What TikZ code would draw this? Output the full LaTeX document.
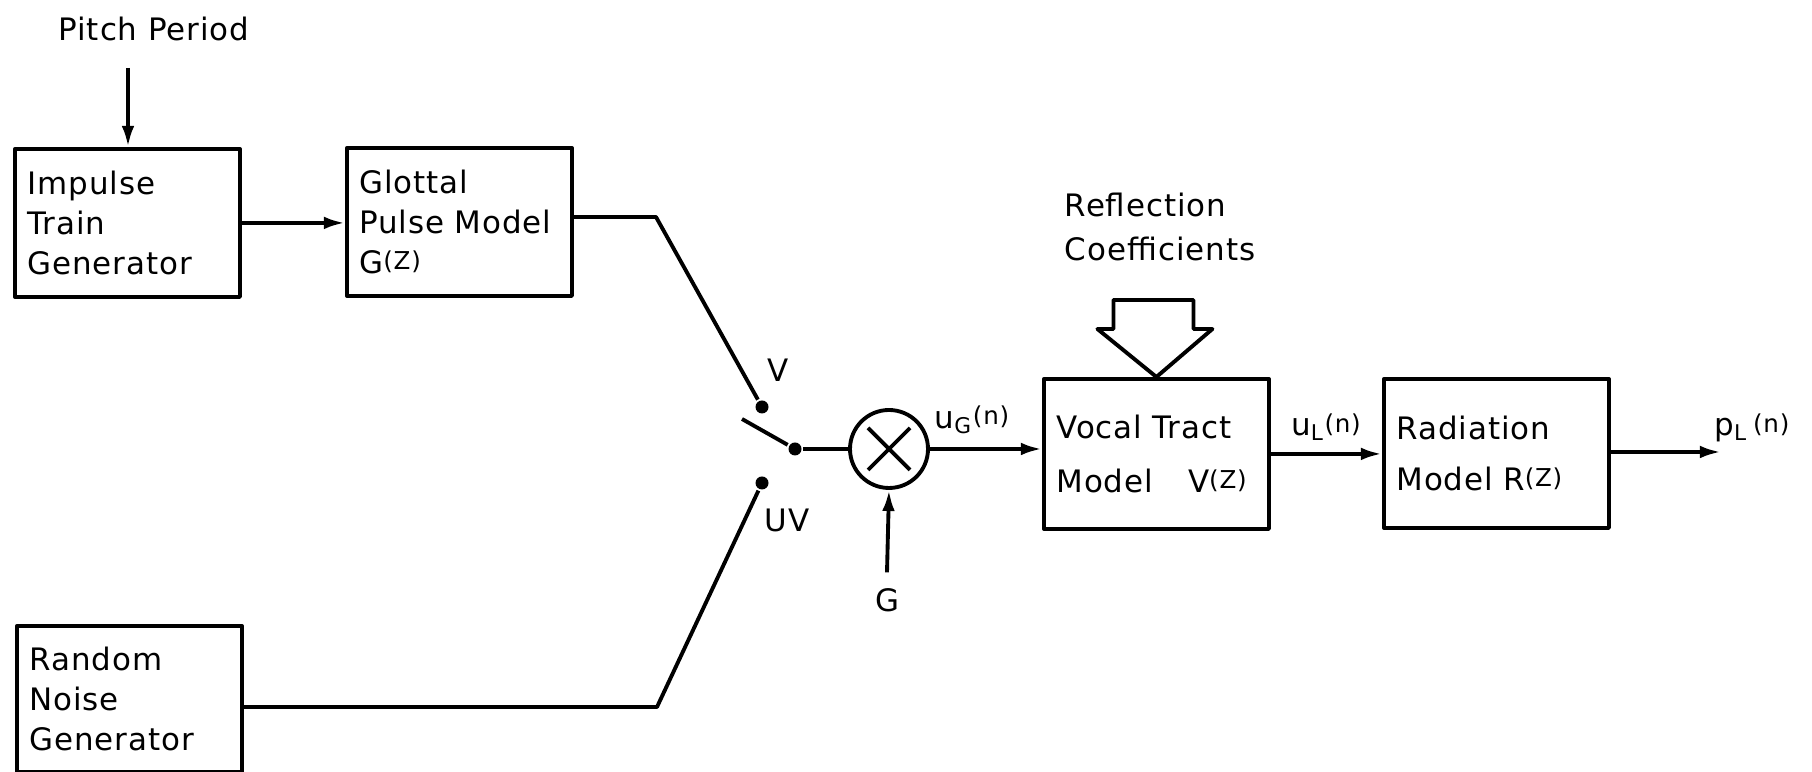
\documentclass[tikz,border=0pt]{standalone}
\usepackage{fontspec}
\setmainfont{DejaVu Sans}[LetterSpace=3]
\usetikzlibrary{arrows.meta}
\newcommand{\smallup}[1]{\raisebox{0.2ex}{\scriptsize #1}}
\begin{document}
\begin{tikzpicture}[font=\fontsize{8.8}{11.3}\selectfont, line width=1.1pt, line join=round,
        block/.style={draw, anchor=north west, align=left, text width=2cm, inner xsep=0.125cm, minimum height=1.48cm},
        sig/.style={-{Latex[length=6pt,width=3.6pt]}},
        contact/.style={circle, fill, inner sep=0pt, minimum size=0.13cm},
        lbl/.style={inner sep=0pt}]
        \useasboundingbox (0,0) rectangle (18.12,-7.72);
        % blocks
        \node[block] (impulse) at (0.13,-1.47) {Impulse\\Train\\Generator};
        \node[block] (glottal) at (3.45,-1.46) {Glottal\\Pulse Model\\G\smallup{(Z)}};
        \node[block, minimum height=1.46cm] (random) at (0.15,-6.24) {Random\\Noise\\Generator};
        \node[block, minimum height=1.50cm] (vocal) at (10.42,-3.77) {Vocal Tract\\[4pt]Model\hspace{0.8em} V\smallup{(Z)}};
        \node[block, minimum height=1.49cm] (radiation) at (13.82,-3.77) {Radiation\\[3pt]Model R\smallup{(Z)}};
        \node[draw, circle, minimum size=0.78cm, inner sep=0pt] (mult) at (8.89,-4.49) {};
        \draw (mult.center) +(-0.21,0.21) -- +(0.21,-0.21) +(-0.21,-0.21) -- +(0.21,0.21);
        % labels
        \node[lbl] (pitch) at (1.54,-0.29) {Pitch Period};
        \node[lbl, anchor=west, align=left] (refl) at (10.63,-2.27) {Reflection\\[1pt]Coefficients};
        \node[lbl] (vlbl) at (7.78,-3.70) {V};
        \node[lbl] (uvlbl) at (7.87,-5.20) {UV};
        \node[lbl] (gain) at (8.87,-6.00) {G};
        \node[lbl] (ug) at (9.72,-4.20) {u\textsubscript{G}\smallup{(n)}};
        \node[lbl] (ul) at (13.26,-4.27) {u\textsubscript{L}\smallup{(n)}};
        \node[lbl] (pl) at (17.52,-4.28) {p\textsubscript{L}\,\smallup{(n)}};
        % switch
        \node[contact] (vdot) at (7.62,-4.07) {};
        \node[contact] (uvdot) at (7.62,-4.83) {};
        \node[contact] (pivot) at (7.95,-4.49) {};
        \coordinate (armend) at (7.42,-4.19);
        \coordinate (pitchin) at (1.28,-0.68);
        \coordinate (vbend) at (6.56,-2.17);
        \coordinate (uvbend) at (6.57,-7.07);
        \coordinate (out) at (17.21,-4.52);
        % connections
        \draw[sig] (pitchin) -- (pitchin |- impulse.north);
        \draw[sig] (impulse.east) -- (impulse.east -| glottal.west);
        \draw (glottal.east |- vbend) -- (vbend) -- (vdot);
        \draw (random.east |- uvbend) -- (uvbend) -- (uvdot);
        \draw (armend) -- (pivot);
        \draw (pivot) -- (mult.west);
        \draw[sig] ([yshift=0.14cm]gain.north) -- (mult.south);
        \draw[sig] (mult.east) -- (mult.east -| vocal.west);
        \draw[sig] (vocal.east) -- (vocal.east -| radiation.west);
        \draw[sig] (radiation.east) -- (radiation.east |- out) -- (out);
        % hollow arrow
        \draw (vocal.north) -- ++(-0.59,0.48) -- ++(0.16,0) -- ++(0,0.29) -- ++(0.80,0) -- ++(0,-0.29) -- ++(0.19,0) -- cycle;
\end{tikzpicture}
\end{document}
